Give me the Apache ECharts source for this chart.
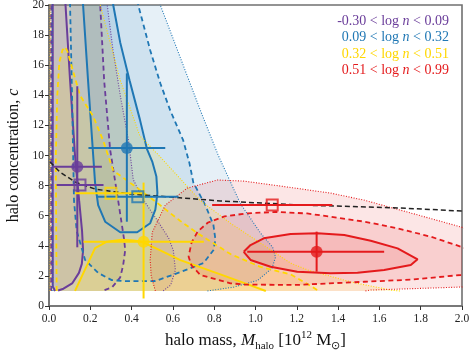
<!DOCTYPE html>
<html>
<head>
<meta charset="utf-8">
<script src="https://cdn.jsdelivr.net/npm/echarts@6/dist/echarts.min.js"></script>
<style>
html,body{margin:0;padding:0;background:#fff;}
#chart_main{width:469px;height:351px;}
</style>
</head>
<body>
<div id="chart_main"></div>
<script type="text/javascript">
// contour outlines, points are [halo mass, c]
// they are cut at c = 1, points above 20 or right of 2 get clipped
var purpleSolid = [[0.03,1.0],[0.018,1.3],[0.018,5],[0.018,20],[0.017,23],[0.076,23],[0.08,20],[0.102,15],[0.126,10],[0.146,7],[0.16,5],[0.165,3.7],[0.159,2.8],[0.145,2.2],[0.112,1.5],[0.07,1.15],[0.044,1.03]];
var purpleDashed = [[0.01,1],[0.01,23],[0.24,23],[0.248,20],[0.267,15],[0.296,10.4],[0.335,7.0],[0.364,4.4],[0.369,3.7],[0.359,2.7],[0.345,1.9],[0.306,1.25],[0.257,1.0]];
var purpleDotted = [[0.005,1],[0.005,23],[0.27,23],[0.282,20],[0.31,17],[0.345,14],[0.385,11],[0.408,8.4],[0.46,7],[0.524,5.7],[0.58,4.5],[0.602,3.7],[0.612,2.4],[0.59,1.4],[0.553,1.0]];

var blueSolid = [[0.16,23],[0.165,20],[0.189,15],[0.214,10],[0.223,8.2],[0.238,6.7],[0.272,5.6],[0.345,4.9],[0.427,4.9],[0.49,5.5],[0.515,6.4],[0.525,7.5],[0.52,8.6],[0.5,9.6],[0.475,10.4],[0.44,12.4],[0.39,15],[0.345,17.5],[0.311,20],[0.3,23]];
var blueDashed = [[0.1,23],[0.102,20],[0.112,13.7],[0.121,7.0],[0.134,5.0],[0.175,3.05],[0.238,2.2],[0.304,1.72],[0.37,1.65],[0.515,1.66],[0.636,2.25],[0.748,2.85],[0.796,3.7],[0.806,4.4],[0.796,5.4],[0.757,6.7],[0.699,8.2],[0.68,9.5],[0.65,11],[0.587,13],[0.539,14.8],[0.49,17],[0.432,20],[0.42,23]];
var blueDotted = [[0.019,1],[0.015,10],[0.015,23],[0.53,23],[0.539,20],[0.636,16.5],[0.733,13],[0.82,10],[0.927,6.8],[1.024,4.85],[1.083,3.9],[1.097,3.25],[1.08,2.5],[1.01,1.7],[0.893,1.25],[0.767,1.0]];

var yellowSolid = [[0.126,1.0],[0.16,2.0],[0.189,2.85],[0.223,3.85],[0.28,4.27],[0.353,4.4],[0.41,4.35],[0.45,4.27],[0.539,3.7],[0.636,3.05],[0.83,2.1],[0.95,1.5],[1.05,1.0]];
var yellowDashed = [[0.037,1],[0.035,5],[0.033,10],[0.04,14],[0.05,16.2],[0.065,17.0],[0.078,17.2],[0.09,16.9],[0.102,16.3],[0.15,14.0],[0.214,12.6],[0.262,11.0],[0.311,9.0],[0.442,7.7],[0.524,6.85],[0.636,5.65],[0.718,4.85],[0.879,3.45],[1.024,2.6],[1.17,2.1],[1.252,1.46],[1.306,1.0]];
var yellowDotted = [[0.005,1],[0.005,23],[0.22,23],[0.248,20],[0.345,15],[0.44,11.3],[0.49,10.6],[0.539,9.9],[0.733,7.0],[0.879,5.5],[1.17,2.85],[1.252,2.4],[1.461,1.6],[1.655,1.06],[1.7,1.0]];

var redSolid = [[0.943,3.6],[0.976,4.05],[1.04,4.5],[1.17,4.78],[1.3,4.83],[1.43,4.72],[1.558,4.34],[1.688,3.83],[1.785,3.1],[1.752,2.72],[1.623,2.39],[1.494,2.21],[1.364,2.17],[1.202,2.28],[1.073,2.61],[0.976,3.06],[0.943,3.6]];
var redDashed = [[2.2,2.4],[1.995,2.06],[1.75,1.75],[1.526,1.61],[1.2,1.4],[0.95,1.42],[0.879,1.51],[0.733,2.06],[0.69,2.7],[0.676,3.28],[0.69,4.2],[0.72,4.95],[0.77,5.55],[0.85,5.95],[0.96,6.16],[1.1,6.25],[1.25,6.15],[1.364,5.93],[1.53,5.6],[1.688,5.16],[1.85,4.6],[1.995,3.94],[2.2,3.1]];
var redDotted = [[0.515,1.0],[0.495,2],[0.49,3.05],[0.5,4.9],[0.563,6.7],[0.67,7.84],[0.816,8.37],[0.942,8.3],[1.121,7.97],[1.364,7.5],[1.524,7.04],[1.752,6.18],[1.995,5.25],[2.2,4.4],[2.2,1.2],[1.995,1.26],[1.558,1.06],[1.53,1.0]];

// black dashed relation
var blackX = [0.005,0.053,0.126,0.223,0.393,0.587,0.83,1.218,1.704,2.0];
var blackC = [9.57,8.9,8.24,7.77,7.44,7.24,6.98,6.71,6.51,6.31];

// purple, blue, yellow, red
var groupColors = ['#6a3d9a','#1f77b4','#ffd700','#e41a1c'];
var groupFills = ['rgba(106,61,154,0.11)','rgba(31,119,180,0.11)','rgba(255,215,0,0.13)','rgba(228,26,28,0.11)'];
var legendLabels = [['-0.30 < log ','n',' < 0.09'],['0.09 < log ','n',' < 0.32'],['0.32 < log ','n',' < 0.51'],['0.51 < log ','n',' < 0.99']];

// filled circles with error bars
var circX = [0.137,0.377,0.458,1.296];
var circC = [9.25,10.5,4.27,3.6];
var circXlo = [0.02,0.191,0.167,0.96];
var circXhi = [0.256,0.563,0.75,1.623];
var circClo = [3.9,5.6,0.5,2.28];
var circChi = [14.6,15.46,8.2,4.94];
// open squares with horizontal error bars
var sqX = [0.15,0.43,0.30,1.081];
var sqC = [8.04,7.26,7.5,6.71];
var sqXlo = [0.037,0.23,0.126,0.79];
var sqXhi = [0.264,0.627,0.456,1.372];

var serif = 'Liberation Serif';
var myChart = echarts.init(document.getElementById('chart_main'));

function fillSeries(pts, color){
    return {
        type:'custom', clip:true, silent:true, z:1, data:pts,
        renderItem:function(params, api){
            if (params.dataIndex !== 0) return;
            var p = pts.map(function(d){ return api.coord(d); });
            return {type:'polygon', shape:{points:p}, style:{fill:color}};
        }
    };
}
function lineSeries(pts, color, kind){
    var ls = {color:color, width:2, type:'solid'};
    if (kind == 'dashed') { ls.width = 1.8; ls.type = [5,3.5]; }
    if (kind == 'dotted') { ls.width = 1.1; ls.type = [1,1.6]; }
    return {type:'line', data:pts, showSymbol:false, symbol:'none', silent:true, z:2, lineStyle:ls, clip:true};
}

var series_data = [];
var groups = [
    [purpleSolid, purpleDashed, purpleDotted],
    [blueSolid, blueDashed, blueDotted],
    [yellowSolid, yellowDashed, yellowDotted],
    [redSolid, redDashed, redDotted]
];
groups.forEach(function(g, i){
    series_data.push(fillSeries(g[2], groupFills[i]));
    series_data.push(fillSeries(g[1], groupFills[i]));
    series_data.push(fillSeries(g[0], groupFills[i]));
});
groups.forEach(function(g, i){
    series_data.push(lineSeries(g[2], groupColors[i], 'dotted'));
    series_data.push(lineSeries(g[1], groupColors[i], 'dashed'));
    series_data.push(lineSeries(g[0], groupColors[i], 'solid'));
});
series_data.push({
    type:'line', silent:true, showSymbol:false, symbol:'none', z:2,
    data: blackX.map(function(x, i){ return [x, blackC[i]]; }),
    lineStyle:{color:'#222', width:1.5, type:[5,3]}
});

// error bars
series_data.push({
    type:'custom', z:3, silent:true,
    data: circX.map(function(x, i){ return [x, circC[i]]; }),
    renderItem:function(params, api){
        var i = params.dataIndex;
        var a = api.coord([circXlo[i], circC[i]]), b = api.coord([circXhi[i], circC[i]]);
        var u = api.coord([circX[i], circClo[i]]), v = api.coord([circX[i], circChi[i]]);
        var st = {stroke:groupColors[i], lineWidth:2};
        var h = api.coord([sqXlo[i], sqC[i]]), k = api.coord([sqXhi[i], sqC[i]]);
        return {type:'group', children:[
            {type:'line', shape:{x1:a[0],y1:a[1],x2:b[0],y2:b[1]}, style:st},
            {type:'line', shape:{x1:u[0],y1:u[1],x2:v[0],y2:v[1]}, style:st},
            {type:'line', shape:{x1:h[0],y1:h[1],x2:k[0],y2:k[1]}, style:st}
        ]};
    }
});
series_data.push({
    type:'scatter', z:4, silent:true, symbol:'circle', symbolSize:12,
    data: circX.map(function(x, i){ return {value:[x, circC[i]], itemStyle:{color:groupColors[i]}}; })
});
series_data.push({
    type:'scatter', z:4, silent:true, symbol:'rect', symbolSize:11,
    data: sqX.map(function(x, i){ return {value:[x, sqC[i]], itemStyle:{color:'rgba(255,255,255,0)', borderColor:groupColors[i], borderWidth:2}}; })
});

var legendText = legendLabels.map(function(l, i){
    var rich = {};
    rich.a = {fill:groupColors[i], fontSize:14, fontFamily:serif};
    rich.b = {fill:groupColors[i], fontSize:14, fontFamily:serif, fontStyle:'italic'};
    return {
        type:'text', z:10, silent:true,
        style:{x:449, y:21 + i*16.5, text:'{a|' + l[0] + '}{b|' + l[1] + '}{a|' + l[2] + '}', rich:rich, align:'right', verticalAlign:'middle'}
    };
});

var option = {
    animation:false,
    backgroundColor:'#fff',
    grid:{left:49, right:7, top:5, bottom:45, outerBoundsMode:'none', containLabel:false, show:true, borderColor:'#707070', borderWidth:1.6, backgroundColor:'transparent'},
    xAxis:{
        type:'value', min:0, max:2, interval:0.2,
        name:'halo mass, {i|M}{s|halo} [10{p|12} M{s|⊙}]', nameLocation:'middle', nameGap:23,
        nameTextStyle:{fontFamily:serif, fontSize:17, color:'#111', lineHeight:22,
            rich:{
                i:{fontFamily:serif, fontSize:17, fontStyle:'italic', color:'#111', lineHeight:22},
                s:{fontFamily:serif, fontSize:11, color:'#111', lineHeight:11, verticalAlign:'bottom'},
                p:{fontFamily:serif, fontSize:11, color:'#111', lineHeight:11, verticalAlign:'top'}
            }},
        axisLine:{lineStyle:{color:'#707070', width:1.6}},
        axisTick:{show:true, length:4, lineStyle:{color:'#333'}},
        axisLabel:{fontFamily:serif, fontSize:11.5, color:'#222', margin:7, formatter:function(v){ return v.toFixed(1); }},
        splitLine:{show:false}
    },
    yAxis:{
        type:'value', min:0, max:20, interval:2,
        name:'halo concentration, {i|c}', nameLocation:'middle', nameGap:15,
        nameTextStyle:{fontFamily:serif, fontSize:16, color:'#111',
            rich:{i:{fontFamily:serif, fontSize:16, fontStyle:'italic', color:'#111'}}},
        axisLine:{lineStyle:{color:'#707070', width:1.6}},
        axisTick:{show:true, length:4, lineStyle:{color:'#333'}},
        axisLabel:{fontFamily:serif, fontSize:11.5, color:'#222', margin:5},
        splitLine:{show:false}
    },
    graphic:legendText,
    series:series_data
};
myChart.setOption(option);
</script>
</body>
</html>
